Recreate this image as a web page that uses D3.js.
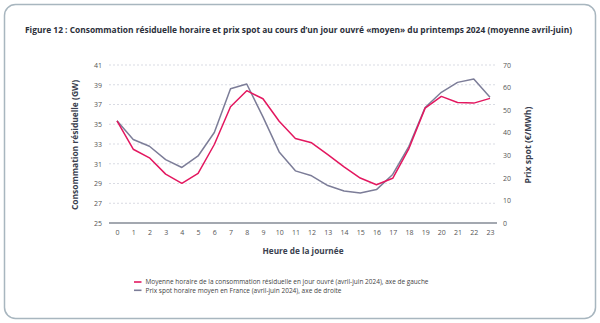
<!DOCTYPE html>
<html><head><meta charset="utf-8">
<script src="https://cdn.jsdelivr.net/npm/d3@7"></script>
<style>body{margin:0;background:#fff;}svg{display:block;font-family:"Open Sans",sans-serif;}</style>
</head><body><svg id="c" width="600" height="323"></svg>
<script>
const hours = d3.range(0,24);
const consumption = [35.35,32.47,31.6,29.95,29.02,30.02,32.95,36.77,38.4,37.58,35.3,33.56,33.12,31.93,30.68,29.55,28.88,29.53,32.54,36.63,37.82,37.21,37.14,37.62];
const price = [45.3,37.0,34.0,28.1,24.6,29.7,40.1,59.5,61.6,47.0,31.5,23.1,20.9,16.6,14.2,13.3,14.8,21.5,34.0,51.2,57.9,62.3,63.8,55.7];
const leftTicks = [25,27,29,31,33,35,37,39,41];
const rightTicks = [0,10,20,30,40,50,60,70];
const title = "Figure 12 : Consommation résiduelle horaire et prix spot au cours d’un jour ouvré «moyen» du printemps 2024 (moyenne avril-juin)";
const legendLabels = ["Moyenne horaire de la consommation résiduelle en jour ouvré (avril-juin 2024), axe de gauche","Prix spot horaire moyen en France (avril-juin 2024), axe de droite"];
const colors = ["#e3175f","#7c7d98"];

const svg = d3.select("#c");
svg.append("rect").attr("x",4.5).attr("y",4.5).attr("width",591).attr("height",314).attr("rx",11)
  .attr("fill","none").attr("stroke","#a8b6bf").attr("stroke-width",1.5);

svg.append("text").attr("x",25).attr("y",33).attr("font-size",8.6).attr("font-weight","bold")
  .attr("fill","#2b2f3a").attr("textLength",547).attr("lengthAdjust","spacingAndGlyphs").text(title);

const x = d3.scalePoint().domain(hours).range([117,490]);
const yL = d3.scaleLinear().domain([25,41]).range([223,65]);
const yR = d3.scaleLinear().domain([0,70]).range([223,65]);

// gridlines
svg.append("g").selectAll("line").data(leftTicks.slice(1)).join("line")
  .attr("x1",109).attr("x2",497).attr("y1",d=>yL(d)).attr("y2",d=>yL(d))
  .attr("stroke","#cfd2dc").attr("stroke-width",0.8).attr("stroke-dasharray","2,2");

// x axis
const gx = svg.append("g").attr("transform","translate(0,223)")
  .call(d3.axisBottom(x).tickSize(0).tickPadding(7));
gx.select(".domain").remove();
gx.selectAll("text").attr("font-size",7).attr("fill","#555").attr("font-family","'Open Sans',sans-serif");
svg.append("line").attr("x1",109).attr("x2",497).attr("y1",223).attr("y2",223)
  .attr("stroke","#a3a8b0").attr("stroke-width",1.8);

// left axis
const gl = svg.append("g").attr("transform","translate(102,0)")
  .call(d3.axisLeft(yL).tickValues(leftTicks).tickSize(0).tickPadding(0));
gl.select(".domain").remove();
gl.selectAll("text").attr("font-size",7).attr("fill","#555").attr("font-family","'Open Sans',sans-serif");

// right axis
const gr = svg.append("g").attr("transform","translate(503,0)")
  .call(d3.axisRight(yR).tickValues(rightTicks).tickSize(0).tickPadding(0));
gr.select(".domain").remove();
gr.selectAll("text").attr("font-size",7).attr("fill","#555").attr("font-family","'Open Sans',sans-serif");

// axis titles
svg.append("text").attr("transform","translate(78,145) rotate(-90)").attr("text-anchor","middle")
  .attr("font-size",8.5).attr("font-weight","bold").attr("fill","#3a3f4f")
  .attr("textLength",130).attr("lengthAdjust","spacingAndGlyphs").text("Consommation résiduelle (GW)");
svg.append("text").attr("transform","translate(531,145) rotate(-90)").attr("text-anchor","middle")
  .attr("font-size",8.5).attr("font-weight","bold").attr("fill","#3a3f4f")
  .attr("textLength",77).attr("lengthAdjust","spacingAndGlyphs").text("Prix spot (€/MWh)");
svg.append("text").attr("x",303).attr("y",254).attr("text-anchor","middle")
  .attr("font-size",8.5).attr("font-weight","bold").attr("fill","#3a3f4f")
  .attr("textLength",81).attr("lengthAdjust","spacingAndGlyphs").text("Heure de la journée");

// lines
const lineL = d3.line().x((d,i)=>x(hours[i])).y(d=>yL(d));
const lineR = d3.line().x((d,i)=>x(hours[i])).y(d=>yR(d));
svg.append("path").datum(price).attr("d",lineR).attr("fill","none").attr("stroke",colors[1]).attr("stroke-width",1.5).attr("stroke-linejoin","round");
svg.append("path").datum(consumption).attr("d",lineL).attr("fill","none").attr("stroke",colors[0]).attr("stroke-width",1.5).attr("stroke-linejoin","round");

// legend
const lg = svg.append("g");
const legendW = [283,196];
legendLabels.forEach((t,i)=>{
  const yy = 282 + i*8.3;
  lg.append("line").attr("x1",134).attr("x2",141.5).attr("y1",yy).attr("y2",yy).attr("stroke",colors[i]).attr("stroke-width",1.6);
  lg.append("text").attr("x",145.5).attr("y",yy+2.3).attr("font-size",6.3).attr("fill","#444")
    .attr("textLength",legendW[i]).attr("lengthAdjust","spacingAndGlyphs").text(t);
});
</script></body></html>
